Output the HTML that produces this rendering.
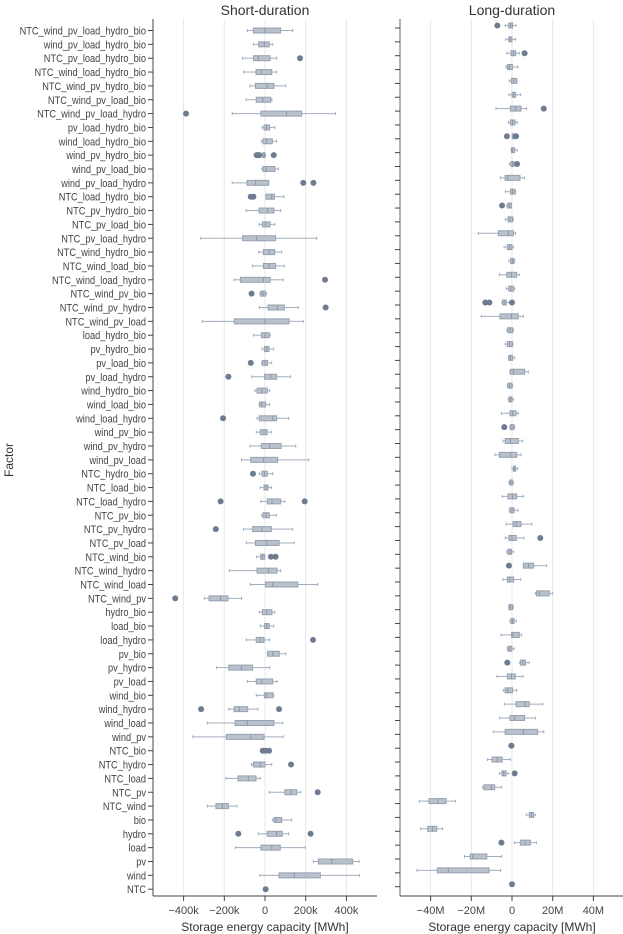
<!DOCTYPE html>
<html><head><meta charset="utf-8"><style>
html,body{margin:0;padding:0;background:#fff;}
svg{display:block;font-family:"Liberation Sans",sans-serif;}
</style></head><body>
<svg id="chart" width="623" height="934" viewBox="0 0 623 934" xmlns="http://www.w3.org/2000/svg">
<text x="265" y="15" text-anchor="middle" font-size="14" fill="#333">Short-duration</text>
<text x="512" y="15" text-anchor="middle" font-size="14" fill="#333">Long-duration</text>
<text transform="translate(13,460) rotate(-90)" text-anchor="middle" font-size="12" fill="#333">Factor</text>
<text x="265" y="931" text-anchor="middle" font-size="12" fill="#333">Storage energy capacity [MWh]</text>
<text x="512" y="931" text-anchor="middle" font-size="12" fill="#333">Storage energy capacity [MWh]</text>
<g id="layer"></g>
</svg>
<script>
const categories=["NTC_wind_pv_load_hydro_bio","wind_pv_load_hydro_bio","NTC_pv_load_hydro_bio","NTC_wind_load_hydro_bio","NTC_wind_pv_hydro_bio","NTC_wind_pv_load_bio","NTC_wind_pv_load_hydro","pv_load_hydro_bio","wind_load_hydro_bio","wind_pv_hydro_bio","wind_pv_load_bio","wind_pv_load_hydro","NTC_load_hydro_bio","NTC_pv_hydro_bio","NTC_pv_load_bio","NTC_pv_load_hydro","NTC_wind_hydro_bio","NTC_wind_load_bio","NTC_wind_load_hydro","NTC_wind_pv_bio","NTC_wind_pv_hydro","NTC_wind_pv_load","load_hydro_bio","pv_hydro_bio","pv_load_bio","pv_load_hydro","wind_hydro_bio","wind_load_bio","wind_load_hydro","wind_pv_bio","wind_pv_hydro","wind_pv_load","NTC_hydro_bio","NTC_load_bio","NTC_load_hydro","NTC_pv_bio","NTC_pv_hydro","NTC_pv_load","NTC_wind_bio","NTC_wind_hydro","NTC_wind_load","NTC_wind_pv","hydro_bio","load_bio","load_hydro","pv_bio","pv_hydro","pv_load","wind_bio","wind_hydro","wind_load","wind_pv","NTC_bio","NTC_hydro","NTC_load","NTC_pv","NTC_wind","bio","hydro","load","pv","wind","NTC"];
// short-duration boxes [lo, q1, median, q3, hi] in kMWh
const shortBoxes=[[-87,-57,0,77,136],[-57,-31,-3,21,38],[-111,-57,-33,25,57],[-105,-44,-16,33,57],[-74,-47,11,44,102],[-93,-43,-11,28,34],[-161,-20,106,180,347],[-15,-5,8,23,48],[-18,-10,8,36,57],[-16,-11,-5,0,3],[-15,-10,5,49,66],[-161,-88,-46,18,18],[5,5,33,46,93],[-93,-29,13,44,77],[-28,-13,2,25,48],[-316,-110,-41,52,254],[-31,-8,20,48,82],[-61,-8,20,52,95],[-152,-121,-8,26,90],[-25,-21,-10,2,7],[-28,15,61,95,164],[-308,-151,0,118,188],[-57,-18,0,21,25],[-15,-3,8,20,43],[-16,-13,0,13,33],[-66,-3,28,57,126],[-49,-39,-16,11,23],[-29,-26,-16,3,23],[-39,-28,38,57,116],[-43,-23,-5,11,31],[-74,-18,23,79,151],[-116,-70,-7,62,215],[-28,-15,-3,11,38],[-23,-5,5,15,31],[-21,11,34,77,97],[-16,-10,5,21,56],[-106,-61,-16,31,136],[-92,-47,8,69,144],[-41,-21,-13,-2,-2],[-175,-39,18,59,77],[-72,2,38,161,259],[-298,-275,-219,-182,-115],[-28,-13,8,34,48],[-23,-2,8,21,43],[-93,-43,-26,-5,23],[11,13,39,70,102],[-239,-178,-116,-61,23],[-87,-43,-16,38,59],[-43,-3,8,39,43],[-178,-152,-126,-85,-34],[-283,-147,-87,44,87],[-355,-190,-70,-5,90],null,[-66,-57,-23,0,33],[-192,-133,-82,-44,-23],[21,98,128,156,175],[-283,-241,-210,-180,-138],[36,44,54,82,131],[-33,11,57,85,116],[-146,-20,33,75,198],[238,262,328,431,462],[-26,69,144,272,465],null];
const shortOutliers=[[],[],[172],[],[],[],[-388],[],[],[-41,-33,-28,43],[],[188,238],[-70,-57],[],[],[],[],[],[295],[-66],[298],[],[],[],[-70],[-180],[],[],[-206],[],[],[],[-59],[],[-218,195],[],[-242],[],[29,52],[],[],[-441],[],[],[236],[],[],[],[],[-314,69],[],[],[-11,3,20],[128],[],[259],[],[],[-131,224],[],[],[],[3]];
// long-duration boxes [lo, q1, median, q3, hi] in MMWh
const longBoxes=[[-3.3,-1.6,-0.7,0.3,2.0],[-3.1,-1.6,-0.8,0,1.8],[-2.5,-0.5,0.7,1.8,3.6],[-2.9,-2.3,-1.3,0.2,2.9],[-1.3,-0.3,0.8,2.3,2.5],[-1.5,0,0.8,1.8,4.3],[-7.9,-0.8,1.8,4.4,7.2],[-1.8,-0.8,0.3,1.5,2.6],[0,0.2,0.8,1.5,1.5],[-0.5,-0.2,0.3,1.3,2.5],[-1.3,-0.5,0.2,1.0,1.0],[-5.7,-3.4,-2.1,3.9,6.2],[-3.3,-0.8,0.2,1.5,1.8],[-2.5,-2.1,-1.3,-0.3,-0.3],[-3.3,-2.0,-1.0,0.3,0.7],[-16.5,-6.7,-1.8,0.7,1.8],[-3.9,-2.3,-1.1,0,0.8],[-1.5,-0.7,0.2,1.0,1.3],[-6.2,-2.6,-0.3,2.3,3.6],[-2.8,-1.6,-0.5,0.8,1.3],[-4.9,-4.6,-3.8,-2.8,-1.0],[-15.1,-5.9,-0.3,3.1,5.6],[-2.5,-2.1,-1.0,0.3,0.7],[-3.3,-2.3,-1.1,0.2,0.5],[-1.8,-1.5,-0.7,0.3,1.3],[-1.1,-0.8,0.7,6.2,8.0],[-2.3,-2.0,-1.1,0,0.3],[-1.8,-1.5,-0.8,0,0.7],[-5.2,-1.0,0.2,2.0,3.1],[-1.1,-0.8,0,1.0,1.3],[-4.4,-3.3,-0.8,3.1,5.2],[-8.4,-6.2,-0.7,2.3,4.4],[0,0.7,1.3,1.8,2.8],[-1.5,-1.1,-0.5,0.3,0.8],[-4.8,-2.0,0.2,2.3,5.6],[-1.3,-1.0,0,1.0,2.9],[-2.9,0.5,2.1,4.4,9.8],[-3.3,-1.5,0,2.1,5.9],[-2.6,-2.0,-1.1,-0.2,0.8],[5.6,5.6,8.2,10.6,17.0],[-4.4,-2.3,-1.1,0.8,4.3],[11.5,12.1,13.4,18.3,20.0],[-1.6,-1.5,-0.7,0.3,0.7],[-1.0,-0.5,0.2,1.0,2.1],[-5.4,-0.2,0.5,3.6,4.8],[-2.3,-2.0,-1.0,0,1.1],[3.8,4.1,5.4,6.7,8.5],[-7.4,-2.3,-0.3,1.6,5.4],[-4.3,-3.4,-2.1,0.3,2.3],[-3.8,2.0,6.4,8.4,15.1],[-6.1,-1.0,1.3,6.2,11.6],[-9.2,-3.4,5.6,12.6,15.6],null,[-12.1,-9.8,-7.2,-4.8,-0.7],[-6.2,-4.9,-4.1,-2.9,-1.6],[-14.4,-13.8,-10.2,-8.5,-5.1],[-45.5,-40.8,-36.5,-32.4,-27.7],[7.0,8.5,9.5,10.6,11.6],[-44.9,-41.4,-39.0,-37.0,-34.1],[1.1,4.1,6.4,9.0,12.0],[-23.4,-20.5,-19.3,-12.4,-5.1],[-46.7,-36.7,-31.3,-11.3,-5.6],null];
const longOutliers=[[-7.2],[],[6.2],[],[],[],[15.6],[],[-2.5,2.0],[],[2.5],[],[],[-4.9],[],[],[],[],[],[],[-13.1,-11.1,0],[],[],[],[],[],[],[],[],[-3.8],[],[],[],[],[],[],[],[13.9],[],[-1.5],[],[],[],[],[],[],[-2.3],[],[],[],[],[],[-0.3],[],[1.3],[],[],[],[],[-5.2],[],[],[0]];
const shortTicks=[-400,-200,0,200,400];
const shortTickLabels=["\u2212400k","\u2212200k","0","200k","400k"];
const longTicks=[-40,-20,0,20,40];
const longTickLabels=["\u221240M","\u221220M","0","20M","40M"];

const NS="http://www.w3.org/2000/svg";
const layer=document.getElementById('layer');
function mk(tag,attrs,parent){const e=document.createElementNS(NS,tag);for(const k in attrs)e.setAttribute(k,attrs[k]);(parent||layer).appendChild(e);return e;}
const rowY=i=>30.5+i*13.85;
const xS=v=>265+v*0.2035;
const xL=v=>512+v*2.035;
const TOP=19,BOT=896;

function panel(name,x0,x1,scale,ticks,labels,boxes,outs,dy,showCats){
  const g=mk('g',{});
  
  
  ticks.forEach((t,i)=>{
    const gl=mk('line',{x1:scale(t),x2:scale(t),y1:TOP,y2:BOT,stroke:'#e8e8e8','stroke-width':1},g);
    
    
    const tm=mk('line',{x1:scale(t),x2:scale(t),y1:BOT,y2:BOT+5,stroke:'#444','stroke-width':1},g);
    
    
    const tl=mk('text',{x:scale(t),y:BOT+18,'text-anchor':'middle','font-size':11,fill:'#444'},g);
    tl.textContent=labels[i];
    
    
  });
  const ax=mk('line',{x1:x0,x2:x0,y1:TOP,y2:BOT,stroke:showCats?'#444':'#999','stroke-width':showCats?1:1.5},g);
  
  
  const bx=mk('line',{x1:x0,x2:x1,y1:BOT,y2:BOT,stroke:'#444','stroke-width':1},g);
  
  
  categories.forEach((c,i)=>{
    const ty=rowY(i)+(showCats?0:-2.5);
    const tk=mk('line',{x1:x0-5,x2:x0,y1:ty,y2:ty,stroke:'#444','stroke-width':1},g);
    
    
    if(showCats){
      const lb=mk('text',{x:x0-7,y:rowY(i)+4,'text-anchor':'end','font-size':11,fill:'#444'},g);
      lb.textContent=c;
      
      
      const w=lb.getComputedTextLength();
      lb.setAttribute('textLength',(w*0.84).toFixed(1));
      lb.setAttribute('lengthAdjust','spacingAndGlyphs');
    }
    const y=rowY(i)+dy;
    const b=boxes[i];
    if(b){
      const bg=mk('g',{},g);
      
      
      const wc='#a3adbb';
      mk('line',{x1:scale(b[0]),x2:scale(b[1]),y1:y,y2:y,stroke:wc,'stroke-width':1},bg);
      mk('line',{x1:scale(b[3]),x2:scale(b[4]),y1:y,y2:y,stroke:wc,'stroke-width':1},bg);
      mk('line',{x1:scale(b[0]),x2:scale(b[0]),y1:y-1.5,y2:y+1.5,stroke:wc,'stroke-width':1},bg);
      mk('line',{x1:scale(b[4]),x2:scale(b[4]),y1:y-1.5,y2:y+1.5,stroke:wc,'stroke-width':1},bg);
      mk('rect',{x:scale(b[1]),y:y-2.5,width:Math.max(1,scale(b[3])-scale(b[1])),height:5,fill:'#b9c1cc',stroke:'#97a2b1','stroke-width':1},bg);
      mk('line',{x1:scale(b[2]),x2:scale(b[2]),y1:y-2.5,y2:y+2.5,stroke:'#8a96a6','stroke-width':1},bg);
    }
    outs[i].forEach(v=>{
      const p=mk('circle',{cx:scale(v),cy:y,r:3,fill:'#6e7c90'},g);
      
      
    });
  });
}
panel('short',153,377,xS,shortTicks,shortTickLabels,shortBoxes,shortOutliers,0,true);
panel('long',400,623,xL,longTicks,longTickLabels,longBoxes,longOutliers,-5,false);
</script>
</body></html>
